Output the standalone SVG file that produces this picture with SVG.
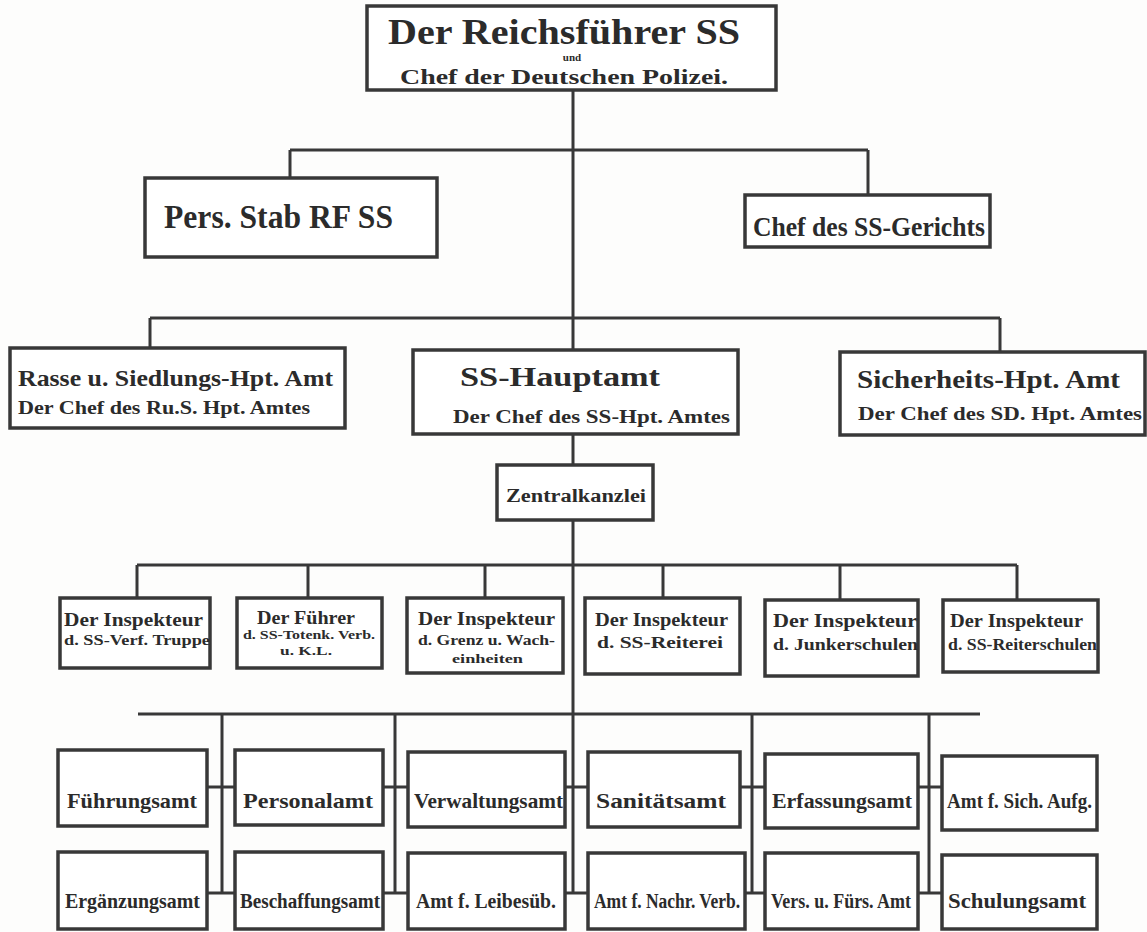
<svg xmlns="http://www.w3.org/2000/svg" width="1147" height="932" viewBox="0 0 1147 932">
<style>
.bg{fill:#fdfdfc}
.box{fill:#ffffff;stroke:#383838;stroke-width:3.5}
.ln{fill:none;stroke:#383838;stroke-width:3}
text{font-family:"Liberation Serif","DejaVu Serif",serif;font-weight:bold;fill:#2b2b2b}
</style>
<rect class="bg" x="0" y="0" width="1147" height="932"/>
<g id="connectors">
<path class="ln" d="M573 90V893"/>
<path class="ln" d="M290 150H868M290 150V178M868 150V195"/>
<path class="ln" d="M150 318H1000M150 318V348M1000 318V352"/>
<path class="ln" d="M137 565H1017M137 565V598M308 565V598M485 565V598M663 565V598M840 565V600M1017 565V600"/>
<path class="ln" d="M138 714H980"/>
<path class="ln" d="M222 714V893M395 714V893M752 714V893M929 714V893"/>
<path class="ln" d="M207 787H235M383 787H408M565 787H588M740 787H765M918 787H942"/>
<path class="ln" d="M207 893H235M383 893H408M565 893H588M745 893H765M918 893H942"/>
</g>
<g id="n-reichsfuehrer">
<rect class="box" x="367" y="6" width="409" height="84"/>
<text x="388" y="44" font-size="35" textLength="352" lengthAdjust="spacingAndGlyphs">Der Reichsführer SS</text>
<text x="572" y="61" font-size="11" text-anchor="middle">und</text>
<text x="400" y="84" font-size="22" textLength="328" lengthAdjust="spacingAndGlyphs">Chef der Deutschen Polizei.</text>
</g>
<g id="n-persstab">
<rect class="box" x="145" y="178" width="292" height="79"/>
<text x="164" y="228" font-size="34" textLength="229" lengthAdjust="spacingAndGlyphs">Pers. Stab RF SS</text>
</g>
<g id="n-gericht">
<rect class="box" x="745" y="195" width="245" height="52"/>
<text x="753" y="236" font-size="27" textLength="232" lengthAdjust="spacingAndGlyphs">Chef des SS-Gerichts</text>
</g>
<g id="n-rusha">
<rect class="box" x="10" y="348" width="335" height="80"/>
<text x="18" y="386" font-size="23" textLength="315" lengthAdjust="spacingAndGlyphs">Rasse u. Siedlungs-Hpt. Amt</text>
<text x="18" y="414" font-size="18" textLength="292" lengthAdjust="spacingAndGlyphs">Der Chef des Ru.S. Hpt. Amtes</text>
</g>
<g id="n-hauptamt">
<rect class="box" x="413" y="350" width="325" height="84"/>
<text x="460" y="386" font-size="28" textLength="200" lengthAdjust="spacingAndGlyphs">SS-Hauptamt</text>
<text x="453" y="423" font-size="19" textLength="277" lengthAdjust="spacingAndGlyphs">Der Chef des SS-Hpt. Amtes</text>
</g>
<g id="n-sicherheit">
<rect class="box" x="840" y="352" width="305" height="83"/>
<text x="857" y="388" font-size="26" textLength="263" lengthAdjust="spacingAndGlyphs">Sicherheits-Hpt. Amt</text>
<text x="858" y="420" font-size="19" textLength="284" lengthAdjust="spacingAndGlyphs">Der Chef des SD. Hpt. Amtes</text>
</g>
<g id="n-zentralkanzlei">
<rect class="box" x="497" y="465" width="156" height="55"/>
<text x="506" y="502" font-size="18" textLength="140" lengthAdjust="spacingAndGlyphs">Zentralkanzlei</text>
</g>
<g id="n-insp1">
<rect class="box" x="60" y="598" width="150" height="70"/>
<text x="64" y="626" font-size="18" textLength="139" lengthAdjust="spacingAndGlyphs">Der Inspekteur</text>
<text x="64" y="645" font-size="15" textLength="146" lengthAdjust="spacingAndGlyphs">d. SS-Verf. Truppe</text>
</g>
<g id="n-insp2">
<rect class="box" x="237" y="598" width="145" height="70"/>
<text x="257" y="624" font-size="18" textLength="98" lengthAdjust="spacingAndGlyphs">Der Führer</text>
<text x="243" y="639" font-size="12" textLength="132" lengthAdjust="spacingAndGlyphs">d. SS-Totenk. Verb.</text>
<text x="280" y="655" font-size="13" textLength="52" lengthAdjust="spacingAndGlyphs">u. K.L.</text>
</g>
<g id="n-insp3">
<rect class="box" x="407" y="598" width="156" height="75"/>
<text x="418" y="625" font-size="18" textLength="137" lengthAdjust="spacingAndGlyphs">Der Inspekteur</text>
<text x="418" y="645" font-size="14" textLength="137" lengthAdjust="spacingAndGlyphs">d. Grenz u. Wach-</text>
<text x="452" y="663" font-size="13" textLength="71" lengthAdjust="spacingAndGlyphs">einheiten</text>
</g>
<g id="n-insp4">
<rect class="box" x="585" y="598" width="155" height="76"/>
<text x="595" y="626" font-size="18" textLength="133" lengthAdjust="spacingAndGlyphs">Der Inspekteur</text>
<text x="597" y="648" font-size="17" textLength="126" lengthAdjust="spacingAndGlyphs">d. SS-Reiterei</text>
</g>
<g id="n-insp5">
<rect class="box" x="765" y="600" width="153" height="76"/>
<text x="773" y="627" font-size="18" textLength="144" lengthAdjust="spacingAndGlyphs">Der Inspekteur</text>
<text x="773" y="650" font-size="17" textLength="145" lengthAdjust="spacingAndGlyphs">d. Junkerschulen</text>
</g>
<g id="n-insp6">
<rect class="box" x="943" y="600" width="155" height="72"/>
<text x="950" y="627" font-size="18" textLength="133" lengthAdjust="spacingAndGlyphs">Der Inspekteur</text>
<text x="948" y="650" font-size="16" textLength="149" lengthAdjust="spacingAndGlyphs">d. SS-Reiterschulen</text>
</g>
<g id="n-fuehrungsamt"><rect class="box" x="58" y="750" width="149" height="76"/><text x="67" y="808" font-size="21" textLength="130" lengthAdjust="spacingAndGlyphs">Führungsamt</text></g>
<g id="n-personalamt"><rect class="box" x="235" y="750" width="148" height="75"/><text x="243" y="808" font-size="21" textLength="130" lengthAdjust="spacingAndGlyphs">Personalamt</text></g>
<g id="n-verwaltungsamt"><rect class="box" x="408" y="752" width="157" height="75"/><text x="414" y="808" font-size="21" textLength="149" lengthAdjust="spacingAndGlyphs">Verwaltungsamt</text></g>
<g id="n-sanitaetsamt"><rect class="box" x="588" y="752" width="152" height="75"/><text x="596" y="808" font-size="21" textLength="130" lengthAdjust="spacingAndGlyphs">Sanitätsamt</text></g>
<g id="n-erfassungsamt"><rect class="box" x="765" y="754" width="153" height="74"/><text x="772" y="808" font-size="21" textLength="140" lengthAdjust="spacingAndGlyphs">Erfassungsamt</text></g>
<g id="n-sichaufg"><rect class="box" x="942" y="756" width="155" height="74"/><text x="947" y="808" font-size="20" textLength="145" lengthAdjust="spacingAndGlyphs">Amt f. Sich. Aufg.</text></g>
<g id="n-ergaenzungsamt"><rect class="box" x="58" y="852" width="149" height="77"/><text x="65" y="908" font-size="21" textLength="135" lengthAdjust="spacingAndGlyphs">Ergänzungsamt</text></g>
<g id="n-beschaffungsamt"><rect class="box" x="235" y="852" width="148" height="77"/><text x="240" y="908" font-size="20" textLength="140" lengthAdjust="spacingAndGlyphs">Beschaffungsamt</text></g>
<g id="n-leibesuebungen"><rect class="box" x="408" y="853" width="157" height="76"/><text x="416" y="908" font-size="21" textLength="140" lengthAdjust="spacingAndGlyphs">Amt f. Leibesüb.</text></g>
<g id="n-nachrverb"><rect class="box" x="588" y="853" width="157" height="76"/><text x="594" y="908" font-size="20" textLength="146" lengthAdjust="spacingAndGlyphs">Amt f. Nachr. Verb.</text></g>
<g id="n-versfuers"><rect class="box" x="765" y="853" width="153" height="76"/><text x="771" y="908" font-size="20" textLength="140" lengthAdjust="spacingAndGlyphs">Vers. u. Fürs. Amt</text></g>
<g id="n-schulungsamt"><rect class="box" x="942" y="855" width="155" height="74"/><text x="948" y="908" font-size="21" textLength="138" lengthAdjust="spacingAndGlyphs">Schulungsamt</text></g>
</svg>
